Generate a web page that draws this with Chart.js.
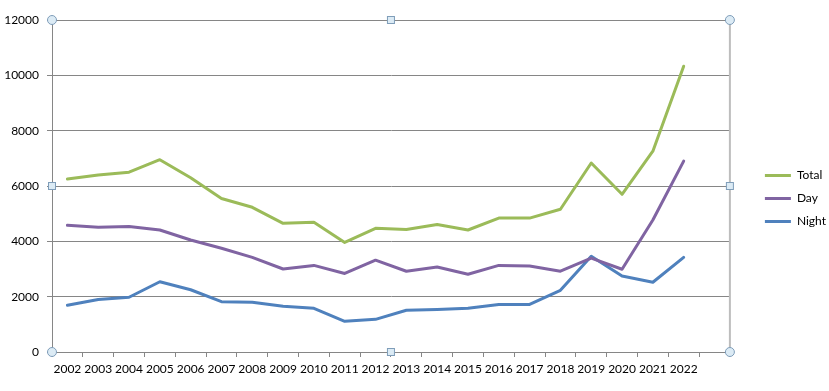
<!DOCTYPE html>
<html>
<head>
<meta charset="utf-8">
<script src="https://cdn.jsdelivr.net/npm/chart.js@4/dist/chart.umd.min.js"></script>
<style>
  html, body { margin: 0; padding: 0; background: #fff; }
  #wrap { width: 829px; height: 391px; }
</style>
</head>
<body>
<div id="wrap"><canvas id="chart" width="829" height="391"></canvas></div>
<script>
'use strict';

const years = ['2002', '2003', '2004', '2005', '2006', '2007', '2008', '2009', '2010', '2011',
  '2012', '2013', '2014', '2015', '2016', '2017', '2018', '2019', '2020', '2021', '2022', ''];
const total = [6250, 6400, 6500, 6950, 6300, 5550, 5230, 4650, 4690, 3960,
  4470, 4430, 4610, 4410, 4840, 4840, 5160, 6830, 5700, 7260, 10330];
const day = [4580, 4510, 4540, 4410, 4050, 3750, 3420, 3000, 3130, 2840,
  3320, 2920, 3070, 2810, 3130, 3110, 2920, 3390, 2990, 4770, 6900];
const night = [1690, 1900, 1980, 2540, 2250, 1820, 1800, 1650, 1580, 1110,
  1180, 1510, 1540, 1580, 1720, 1720, 2230, 3460, 2750, 2520, 3420];

// selection frame + handles around the plot area (as in the Excel screenshot)
const handles = {
  id: 'handles',
  afterDraw(chart) {
    const { ctx, chartArea: a } = chart;
    ctx.save();
    ctx.strokeStyle = '#bdbdbd';
    ctx.lineWidth = 2;
    ctx.beginPath();
    ctx.moveTo(a.right, a.top);
    ctx.lineTo(a.right, a.bottom);
    ctx.stroke();
    const midX = (a.left + a.right) / 2;
    const midY = (a.top + a.bottom) / 2;
    ctx.lineWidth = 1;
    ctx.strokeStyle = '#7f9db9';
    ctx.fillStyle = '#dcebf5';
    [[a.left, a.top], [a.right, a.top], [a.left, a.bottom], [a.right, a.bottom]].forEach(([x, y]) => {
      ctx.beginPath();
      ctx.arc(x, y, 4.5, 0, Math.PI * 2);
      ctx.fill();
      ctx.stroke();
    });
    [[midX, a.top], [midX, a.bottom], [a.left, midY], [a.right, midY]].forEach(([x, y]) => {
      ctx.fillRect(x - 3.5, y - 3.5, 7, 7);
      ctx.strokeRect(x - 3.5, y - 3.5, 7, 7);
    });
    ctx.restore();
  }
};

// nudge the legend block right/up, away from the plot frame
const legendShift = {
  id: 'legendShift',
  afterLayout(chart) {
    const lg = chart.legend;
    lg.left += 24; lg.right += 24;
    lg.top -= 7; lg.bottom -= 7;
  }
};

Chart.defaults.font.family = 'Lato, "Open Sans", sans-serif';
Chart.defaults.font.size = 12;
Chart.defaults.color = '#000';

const ctx = document.getElementById('chart').getContext('2d');
new Chart(ctx, {
  type: 'line',
  data: {
    labels: years,
    datasets: [
      { label: 'Total', data: total, borderColor: '#9bbb59', backgroundColor: '#9bbb59', borderWidth: 3 },
      { label: 'Day', data: day, borderColor: '#8064a2', backgroundColor: '#8064a2', borderWidth: 3 },
      { label: 'Night', data: night, borderColor: '#4f81bd', backgroundColor: '#4f81bd', borderWidth: 3 }
    ]
  },
  options: {
    responsive: false,
    animation: false,
    devicePixelRatio: 1,
    elements: {
      line: { tension: 0, borderCapStyle: 'round', borderJoinStyle: 'round' },
      point: { radius: 0, hoverRadius: 0 }
    },
    layout: { padding: { top: 20, left: 0, right: 17, bottom: 0 } },
    plugins: {
      tooltip: { enabled: false },
      legend: {
        position: 'right',
        align: 'center',
        labels: {
          usePointStyle: true,
          pointStyle: 'line',
          pointStyleWidth: 26,
          boxHeight: 12,
          padding: 11,
          color: '#000',
          font: { size: 12 }
        }
      }
    },
    scales: {
      x: {
        offset: true,
        grid: { offset: true, drawOnChartArea: false, drawTicks: true, tickLength: 5, color: '#868686' },
        border: { color: '#868686', width: 1 },
        ticks: { autoSkip: false, maxRotation: 0, minRotation: 0, padding: 5 },
        afterFit(scale) { scale.height = 39; }
      },
      y: {
        min: 0,
        max: 12000,
        ticks: { stepSize: 2000, padding: 8, callback: (v) => String(v) },
        grid: { color: '#868686', lineWidth: 1, tickLength: 5 },
        border: { color: '#868686', width: 1 },
        afterFit(scale) { scale.width = 52; }
      }
    }
  },
  plugins: [handles, legendShift]
});
</script>
</body>
</html>
